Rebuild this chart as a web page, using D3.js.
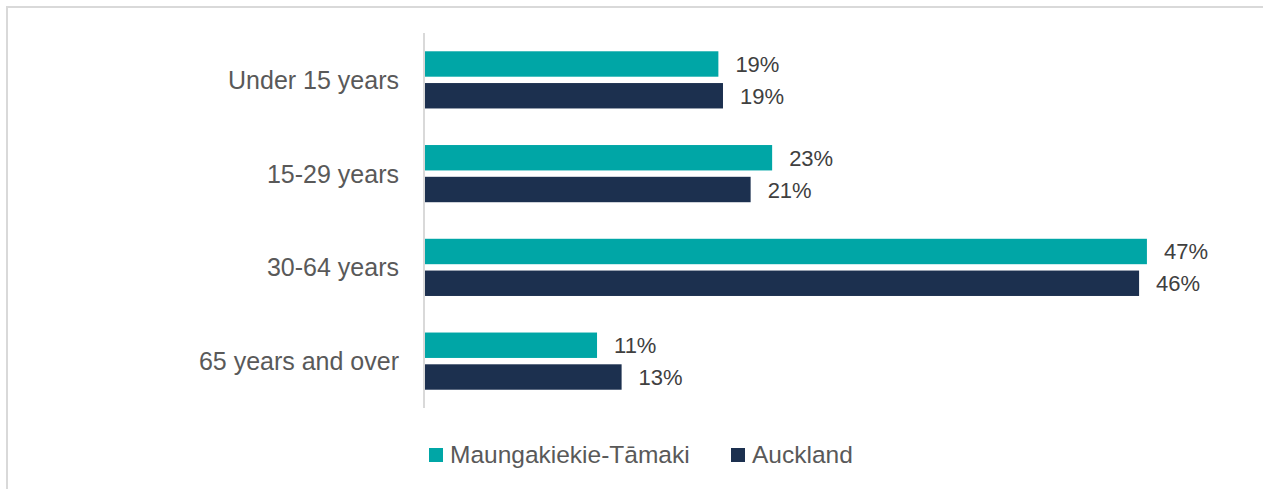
<!DOCTYPE html>
<html>
<head>
<meta charset="utf-8">
<script src="https://cdn.jsdelivr.net/npm/d3@7"></script>
<style>
  html, body { margin: 0; padding: 0; background: #fff; }
  svg { display: block; font-family: "Liberation Sans", Arial, sans-serif; }
</style>
</head>
<body>
<svg id="chart" width="1263" height="489"></svg>
<script>
const categories = ["Under 15 years", "15-29 years", "30-64 years", "65 years and over"];
const seriesNames = ["Maungakiekie-Tāmaki", "Auckland"];
const maungakiekieValues = [19.1, 22.6, 47.0, 11.2];
const aucklandValues = [19.4, 21.2, 46.49, 12.8];
const seriesColors = ["#00a6a6", "#1c304f"];

const seriesValues = [maungakiekieValues, aucklandValues];
const data = categories.map((c, i) => ({
  category: c,
  values: seriesNames.map((s, j) => ({ series: s, value: seriesValues[j][i], color: seriesColors[j] }))
}));

const svg = d3.select("#chart");

// outer border (top and left visible)
svg.append("path")
  .attr("d", "M7,489 L7,7 L1263,7")
  .attr("fill", "none")
  .attr("stroke", "#d9d9d9")
  .attr("stroke-width", 2);

const x = d3.scaleLinear().domain([0, 50]).range([425, 425 + 50 * 15.36]);
const y0 = d3.scaleBand().domain(categories).range([33, 408]).paddingInner(0.39).paddingOuter(0.195);
const y1 = d3.scaleBand().domain(seriesNames).range([0, y0.bandwidth()]).paddingInner(0.2);

// bars
const groups = svg.append("g").selectAll("g")
  .data(data).join("g")
  .attr("transform", d => `translate(0,${y0(d.category)})`);

groups.selectAll("rect")
  .data(d => d.values).join("rect")
  .attr("x", x(0))
  .attr("y", d => y1(d.series))
  .attr("width", d => x(d.value) - x(0))
  .attr("height", y1.bandwidth())
  .attr("fill", d => d.color);

groups.selectAll("text.val")
  .data(d => d.values).join("text")
  .attr("class", "val")
  .attr("x", d => x(d.value) + 17)
  .attr("y", d => y1(d.series) + y1.bandwidth() / 2 + 8)
  .attr("fill", "#404040")
  .style("font-size", "22px")
  .text(d => Math.round(d.value) + "%");

// axis (category)
const yAxis = d3.axisLeft(y0).tickSize(0).tickPadding(0);
const ax = svg.append("g").attr("transform", "translate(424,0)").call(yAxis);
ax.select(".domain").remove();
ax.selectAll("text")
  .attr("x", -25)
  .attr("dy", null)
  .attr("y", 9)
  .attr("fill", "#595959")
  .style("font-size", "25px")
  .style("font-family", "'Liberation Sans', Arial, sans-serif");

svg.append("line")
  .attr("x1", 424).attr("x2", 424)
  .attr("y1", 33).attr("y2", 408)
  .attr("stroke", "#d9d9d9")
  .attr("stroke-width", 2);

// legend
const legendX = [429, 731];
const legend = svg.append("g").selectAll("g")
  .data(seriesNames).join("g")
  .attr("transform", (d, i) => `translate(${legendX[i]},448)`);
legend.append("rect")
  .attr("width", 14).attr("height", 14)
  .attr("fill", (d, i) => seriesColors[i]);
legend.append("text")
  .attr("x", 21).attr("y", 15)
  .attr("fill", "#595959")
  .style("font-size", "24.5px")
  .text(d => d);
</script>
</body>
</html>
